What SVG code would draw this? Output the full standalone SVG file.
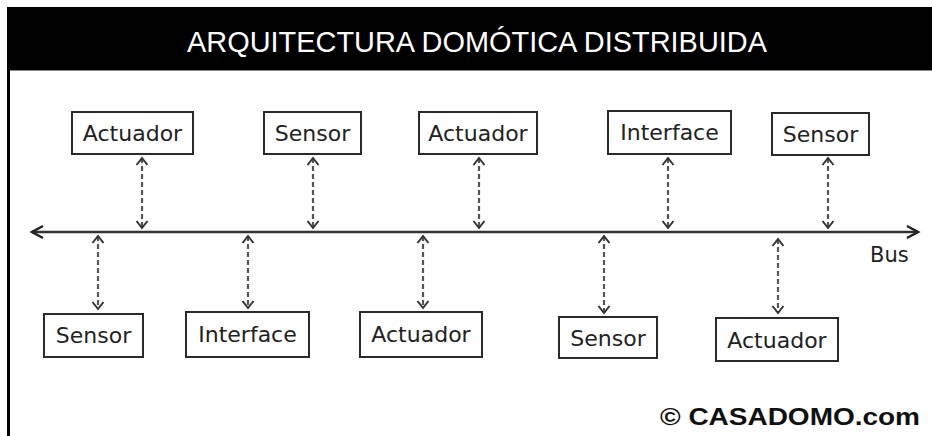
<svg xmlns="http://www.w3.org/2000/svg" width="932" height="436" viewBox="0 0 932 436">
  <defs>
    <style>
      .box { fill: #ffffff; stroke: #2a2a2a; stroke-width: 2; }
      .lbl { font-family: "DejaVu Sans", Verdana, sans-serif; font-size: 22px; fill: #222; text-anchor: middle; }
      .link { stroke: #555; stroke-width: 2.2; stroke-dasharray: 5 3; fill: none; marker-start: url(#chev); marker-end: url(#chev); }
      .bus { stroke: #333; stroke-width: 2.5; fill: none; marker-start: url(#busArrow); marker-end: url(#busArrow); }
    </style>
    <marker id="chev" markerUnits="userSpaceOnUse" viewBox="-9 -8 11 16" refX="0" refY="0" markerWidth="11" markerHeight="16" orient="auto-start-reverse" overflow="visible">
      <path d="M-7,-5.5 L0,0 L-7,5.5" fill="none" stroke="#333" stroke-width="2"/>
    </marker>
    <marker id="busArrow" markerUnits="userSpaceOnUse" viewBox="-14 -8 16 16" refX="0" refY="0" markerWidth="16" markerHeight="16" orient="auto-start-reverse" overflow="visible">
      <path d="M-11,-6 L0,0 L-11,6" fill="none" stroke="#222" stroke-width="2.5"/>
    </marker>
  </defs>

  <rect x="0" y="0" width="932" height="436" fill="#ffffff"/>

  <g id="header">
    <rect x="7" y="7" width="925" height="63" fill="#000"/>
    <line x1="9" y1="70.5" x2="932" y2="70.5" stroke="#888" stroke-width="1"/>
    <text x="477" y="52" font-family="'Liberation Sans', Arial, sans-serif" font-size="29" fill="#fff" text-anchor="middle" textLength="580" lengthAdjust="spacingAndGlyphs">ARQUITECTURA DOMÓTICA DISTRIBUIDA</text>
  </g>
  <rect id="left-border" x="7" y="70" width="3" height="366" fill="#000"/>

  <g id="connectors">
    <line class="bus" x1="32" y1="232" x2="918" y2="232"/>
    <line class="link" x1="142" y1="158" x2="142" y2="228"/>
    <line class="link" x1="313" y1="158" x2="313" y2="228"/>
    <line class="link" x1="479" y1="158" x2="479" y2="228"/>
    <line class="link" x1="668" y1="158" x2="668" y2="228"/>
    <line class="link" x1="828" y1="158" x2="828" y2="228"/>
    <line class="link" x1="98" y1="236" x2="98" y2="309"/>
    <line class="link" x1="248" y1="236" x2="248" y2="308"/>
    <line class="link" x1="423" y1="236" x2="423" y2="308"/>
    <line class="link" x1="604" y1="236" x2="604" y2="313"/>
    <line class="link" x1="778" y1="239" x2="778" y2="313"/>
    <text x="870" y="262" font-family="'DejaVu Sans', Verdana, sans-serif" font-size="21" fill="#222">Bus</text>
  </g>

  <g id="top-actuador-1"><rect class="box" x="72" y="112" width="121" height="42"/><text class="lbl" x="132.5" y="141">Actuador</text></g>
  <g id="top-sensor-1"><rect class="box" x="264" y="112" width="97" height="42"/><text class="lbl" x="312.5" y="141">Sensor</text></g>
  <g id="top-actuador-2"><rect class="box" x="419" y="112" width="118" height="42"/><text class="lbl" x="478" y="141">Actuador</text></g>
  <g id="top-interface"><rect class="box" x="608" y="111" width="123" height="43"/><text class="lbl" x="669.5" y="140">Interface</text></g>
  <g id="top-sensor-2"><rect class="box" x="772" y="113" width="97" height="42"/><text class="lbl" x="820.5" y="142">Sensor</text></g>

  <g id="bottom-sensor-1"><rect class="box" x="44" y="314" width="99" height="43"/><text class="lbl" x="93.5" y="343">Sensor</text></g>
  <g id="bottom-interface"><rect class="box" x="186" y="312" width="123" height="45"/><text class="lbl" x="247.5" y="342">Interface</text></g>
  <g id="bottom-actuador-1"><rect class="box" x="360" y="312" width="122" height="45"/><text class="lbl" x="421" y="342">Actuador</text></g>
  <g id="bottom-sensor-2"><rect class="box" x="559" y="317" width="98" height="41"/><text class="lbl" x="608" y="346">Sensor</text></g>
  <g id="bottom-actuador-2"><rect class="box" x="716" y="318" width="122" height="43"/><text class="lbl" x="777" y="348">Actuador</text></g>

  <text id="copyright" x="660" y="425" font-family="'Liberation Sans', Arial, sans-serif" font-size="24" font-weight="bold" fill="#111" textLength="260" lengthAdjust="spacingAndGlyphs">© CASADOMO.com</text>
</svg>
